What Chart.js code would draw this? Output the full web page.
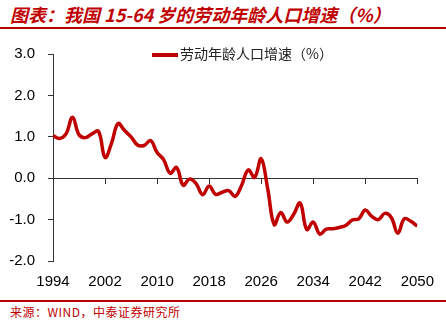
<!DOCTYPE html>
<html>
<head>
<meta charset="utf-8">
<script src="https://cdn.jsdelivr.net/npm/chart.js@4/dist/chart.umd.min.js"></script>
<style>
  body { margin: 0; background: #fff; }
  #wrap { position: relative; width: 446px; height: 322px; overflow: hidden; }
  #title {
    position: absolute; left: 0; top: 0; width: 446px; height: 29px;
    border-bottom: 2px solid #B00000;
    font: italic bold 18px "Noto Sans CJK SC", sans-serif;
    color: #C00000; line-height: 29px; padding-left: 10px; box-sizing: border-box;
    white-space: pre;
  }
  #chartBox { position: absolute; left: 0; top: 32px; width: 446px; height: 268px; }
  #legend {
    position: absolute; left: 152px; top: 43px; height: 20px;
    font: 14px "Noto Sans CJK SC", sans-serif; color: #222; line-height: 20px;
    white-space: nowrap;
  }
  #legend span.bar {
    display: inline-block; width: 26px; height: 4px; background: #C00000;
    vertical-align: middle; margin-right: 2px;
  }
  #source {
    position: absolute; left: 0; top: 300px; width: 446px; height: 22px;
    border-top: 2px solid #B00000; box-sizing: border-box;
    font: 12px "Noto Sans CJK SC", sans-serif; color: #C00000;
    padding-left: 10px; line-height: 20px; letter-spacing: 0.5px;
  }
</style>
</head>
<body>
<div id="wrap">
  <div id="title">图表：我国 15-64 岁的劳动年龄人口增速（%）</div>
  <div id="chartBox"><canvas id="growthChart" width="446" height="268"></canvas></div>
  <div id="legend"><span class="bar"></span>劳动年龄人口增速（%）</div>
  <div id="source">来源：WIND，中泰证券研究所</div>
</div>
<script>
const years = [
  1994, 1995, 1996, 1997, 1998, 1999, 2000, 2001, 2002, 2003,
  2004, 2005, 2006, 2007, 2008, 2009, 2010, 2011, 2012, 2013,
  2014, 2015, 2016, 2017, 2018, 2019, 2020, 2021, 2022, 2023,
  2024, 2025, 2026, 2027, 2028, 2029, 2030, 2031, 2032, 2033,
  2034, 2035, 2036, 2037, 2038, 2039, 2040, 2041, 2042, 2043,
  2044, 2045, 2046, 2047, 2048, 2049, 2050
];
const growthRates = [
  1.03, 0.96, 1.07, 1.47, 1.05, 0.98, 1.07, 1.13, 0.50, 0.85,
  1.32, 1.15, 1.00, 0.80, 0.79, 0.91, 0.62, 0.45, 0.12, 0.26,
  -0.17, -0.02, -0.13, -0.40, -0.19, -0.39, -0.34, -0.30, -0.44, -0.17,
  0.20, 0.02, 0.47, -0.25, -1.12, -0.83, -1.06, -0.87, -0.60, -1.24,
  -1.06, -1.35, -1.23, -1.22, -1.19, -1.14, -1.01, -0.98, -0.77, -0.92,
  -1.00, -0.85, -0.95, -1.33, -0.98, -1.04, -1.16
];
const xTickYears = [1994, 2002, 2010, 2018, 2026, 2034, 2042, 2050];
const yTicks = [-2, -1, 0, 1, 2, 3];

const axisColor = '#333';
const lineColor = '#C00000';
const tickFamily = '"Liberation Sans", Arial, sans-serif';

function setYearTicks(scale) {
  scale.ticks = xTickYears.map(v => ({ value: v }));
}

const ctx = document.getElementById('growthChart').getContext('2d');
const growthChart = new Chart(ctx, {
  type: 'line',
  data: {
    datasets: [{
      label: '劳动年龄人口增速（%）',
      data: years.map((y, i) => ({ x: y, y: growthRates[i] })),
      borderColor: lineColor,
      backgroundColor: lineColor,
      borderWidth: 3.5,
      pointRadius: 0,
      tension: 0.4,
      fill: false
    }]
  },
  options: {
    responsive: false,
    animation: false,
    layout: { padding: { top: 15, right: 26, left: 0, bottom: 0 } },
    plugins: {
      legend: { display: false },
      tooltip: { enabled: false }
    },
    scales: {
      x: {
        type: 'linear',
        position: 'bottom',
        min: 1994,
        max: 2050,
        afterBuildTicks: setYearTicks,
        afterFit: s => { s.height = 39; },
        grid: { display: false, drawTicks: false },
        border: { display: false },
        ticks: {
          padding: 12,
          color: '#000',
          maxRotation: 0,
          font: { family: tickFamily, size: 15 },
          callback: v => String(v)
        }
      },
      x2: {
        type: 'linear',
        position: { y: 0 },
        min: 1994,
        max: 2050,
        afterBuildTicks: setYearTicks,
        grid: { drawOnChartArea: false, drawTicks: true, tickLength: 5, color: axisColor, lineWidth: 1 },
        border: { color: axisColor, width: 1 },
        ticks: { display: false }
      },
      y: {
        min: -2,
        max: 3,
        afterBuildTicks: s => { s.ticks = yTicks.map(v => ({ value: v })); },
        afterFit: s => { s.width = 53; },
        grid: { drawOnChartArea: false, tickLength: 5, color: axisColor },
        border: { color: axisColor, width: 1 },
        ticks: {
          padding: 13,
          color: '#000',
          font: { family: tickFamily, size: 15 },
          callback: v => v.toFixed(1)
        }
      }
    }
  }
});
</script>
</body>
</html>
